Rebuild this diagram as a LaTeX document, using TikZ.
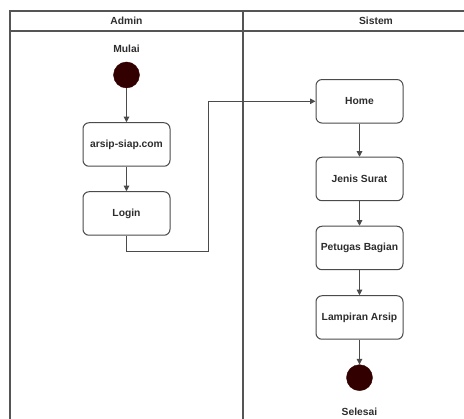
\documentclass[tikz,border=0pt]{standalone}
\usepackage{fontspec}
\setmainfont{Liberation Sans}
\usepackage{tikz}
\usetikzlibrary{arrows.meta,positioning}
\definecolor{lane}{RGB}{85, 85, 85}
\definecolor{edge}{RGB}{75, 75, 75}
\definecolor{label}{RGB}{45, 45, 45}
\definecolor{dot}{RGB}{51, 0, 0}

\begin{document}
\begin{tikzpicture}[x=1pt, y=-1pt, >={Triangle[length=5.5pt,width=5.5pt]},
    every node/.style={font=\bfseries\fontsize{10.3}{12}\selectfont, text=label},
    activity/.style={draw=edge, line width=1pt, rounded corners=6pt, minimum width=87pt, minimum height=43.5pt, align=center, fill=white},
    dotnode/.style={circle, fill=dot, draw=dot, minimum size=26pt, inner sep=0pt},
    flow/.style={->, draw=edge, line width=1pt}]
    \useasboundingbox (0,0) rectangle (464,419);

    % Swimlanes
    \draw[lane, line width=1.3pt] (464,11) -- (10,11) -- (10,419);
    \draw[lane, line width=1.3pt] (10,31) -- (464,31);
    \draw[lane, line width=1.3pt] (243,11) -- (243,419);
    \node (admin) at (126.5,21) {Admin};
    \node (sistem) at (376,21) {Sistem};

    % Admin lane
    \node (mulai) at (126.5,49) {Mulai};
    \node[dotnode] (start) at (126.5,75) {};
    \node[activity] (web) at (126.5,144.5) {arsip-siap.com};
    \node[activity] (login) at (126.5,213.5) {Login};

    % Sistem lane
    \node[activity] (home) at (359.5,101.3) {Home};
    \node[activity] (jenis) at (359.5,179) {Jenis Surat};
    \node[activity] (petugas) at (359.5,248) {Petugas Bagian};
    \node[activity] (lampiran) at (359.5,317.5) {Lampiran Arsip};
    \node[dotnode] (finish) at (359.5,377.7) {};
    \node (selesai) at (359.5,412) {Selesai};

    % Flows
    \coordinate (bend) at (208.7,252);
    \draw[flow] (start) -- (web);
    \draw[flow] (web) -- (login);
    \draw[flow] (login.south) |- (bend) |- (home.west);
    \draw[flow] (home) -- (jenis);
    \draw[flow] (jenis) -- (petugas);
    \draw[flow] (petugas) -- (lampiran);
    \draw[flow] (lampiran) -- (finish);
\end{tikzpicture}
\end{document}
